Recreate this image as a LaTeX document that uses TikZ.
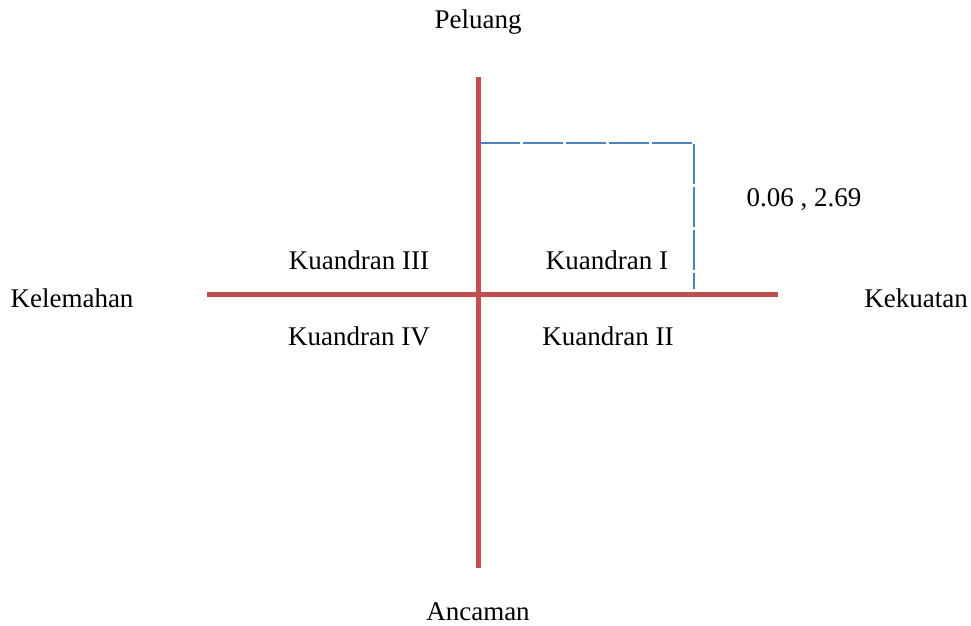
\documentclass[tikz,border=0pt]{standalone}
\usepackage{fontspec}
\setmainfont{Liberation Serif}
\definecolor{axisred}{HTML}{C0504D}
\definecolor{guideblue}{HTML}{4F81BD}
\begin{document}
\begin{tikzpicture}[x=1pt,y=-1pt,
  lbl/.style={font=\fontsize{27}{32}\selectfont, inner sep=0pt, anchor=center},
  axis/.style={draw=axisred, line width=5pt},
  guide/.style={draw=guideblue, line width=1.3pt, dash pattern=on 40pt off 3pt}]
\useasboundingbox (0,0) rectangle (971,625);
\coordinate (top) at (478,77);
\coordinate (bot) at (478,568);
\coordinate (left) at (207,294);
\coordinate (right) at (778,294);
\coordinate (g1) at (480,143);
\coordinate (g2) at (694,143);
\coordinate (g3) at (694,289);
\draw[axis] (top) -- (bot);
\draw[axis] (left) -- (right);
\draw[guide] (g1) -- (g2) -- (g3);
\node[lbl] (peluang) at (478,22) {Peluang};
\node[lbl] (ancaman) at (478,612) {Ancaman};
\node[lbl] (kelemahan) at (72,298) {Kelemahan};
\node[lbl] (kekuatan) at (916,298) {Kekuatan};
\node[lbl] (k3) at (359,260) {Kuandran III};
\node[lbl] (k1) at (607,260) {Kuandran I};
\node[lbl] (k4) at (359,336) {Kuandran IV};
\node[lbl] (k2) at (608,336) {Kuandran II};
\node[lbl] (pt) at (804,200) {0.06 , 2.69};
\end{tikzpicture}
\end{document}
